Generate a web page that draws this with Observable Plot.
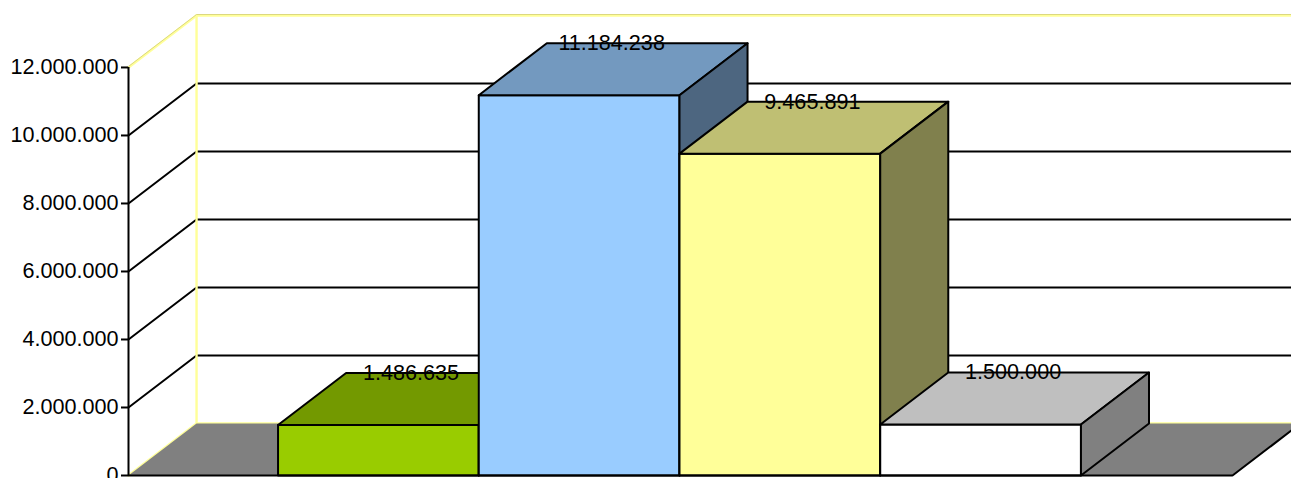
<!DOCTYPE html>
<html>
<head>
<meta charset="utf-8">
<style>html,body{margin:0;padding:0;background:#fff;overflow:hidden}svg{display:block}</style>
<script src="https://cdn.jsdelivr.net/npm/d3@7"></script>
<script src="https://cdn.jsdelivr.net/npm/@observablehq/plot@0.6"></script>
</head>
<body>
<script>
const values = [1486635, 11184238, 9465891, 1500000];
const valueLabels = ["1.486.635", "11.184.238", "9.465.891", "1.500.000"];
const frontColors = ["#99cc00", "#99ccff", "#ffff99", "#ffffff"];
const topColors = ["#739900", "#7399bf", "#bfbf73", "#bfbfbf"];
const sideColors = ["#4d6600", "#4d6680", "#80804d", "#808080"];
const tickValues = [0, 2000000, 4000000, 6000000, 8000000, 10000000, 12000000];
const tickLabels = ["0", "2.000.000", "4.000.000", "6.000.000", "8.000.000", "10.000.000", "12.000.000"];
const axisMax = 12000000, slots = 5.5, firstBar = 0.745, depthX = 0.339, depthY = 1528000;

const poly = (pts) => pts.map(([x, y]) => ({x, y}));
const fillLine = (pts, fill, extra = {}) =>
  Plot.line(poly([...pts, pts[0]]), {x: "x", y: "y", fill, stroke: "#000", strokeWidth: 2, strokeLinejoin: "round", curve: "linear", ...extra});
const edge = (pts, stroke, strokeWidth, extra = {}) =>
  Plot.line(poly(pts), {x: "x", y: "y", stroke, strokeWidth, curve: "linear", ...extra});

const sideWall = [[0, 0], [depthX, depthY], [depthX, axisMax + depthY], [0, axisMax]];
const backWall = [[depthX, depthY], [slots + depthX, depthY], [slots + depthX, axisMax + depthY], [depthX, axisMax + depthY]];
const floor = [[0, 0], [slots, 0], [slots + depthX, depthY], [depthX, depthY]];

const bars = values.flatMap((v, i) => {
  const a = firstBar + i, b = a + 1;
  return [
    fillLine([[a, 0], [b, 0], [b, v], [a, v]], frontColors[i]),
    fillLine([[a, v], [b, v], [b + depthX, v + depthY], [a + depthX, v + depthY]], topColors[i]),
    fillLine([[b, 0], [b + depthX, depthY], [b + depthX, v + depthY], [b, v]], sideColors[i])
  ];
});

const gridTicks = tickValues.filter((t) => t > 0 && t < axisMax);
const labelData = values.map((v, i) => ({x: firstBar + i + 0.5 + depthX / 2, y: v + depthY, text: valueLabels[i]}));

const chart = Plot.plot({
  width: 1291,
  height: 478,
  marginLeft: 128, marginRight: 59, marginTop: 15, marginBottom: 3,
  style: {background: "#fff", overflow: "hidden"},
  x: {domain: [0, slots], range: [128, 1232], axis: null},
  y: {domain: [0, axisMax + depthY], range: [475, 15], axis: null},
  marks: [
    fillLine(sideWall, "#fdf4de", {stroke: "none", ariaLabel: "wall"}),
    fillLine(backWall, "#fdf4de", {stroke: "none", ariaLabel: "wall"}),
    ...gridTicks.flatMap((t) => [
      edge([[0, t], [depthX, t + depthY], [slots + depthX, t + depthY]], "#000", 2)
    ]),
    edge([[0, 0], [depthX, depthY], [depthX, axisMax + depthY]], "#ffff99", 2.4),
    edge([[depthX, depthY], [slots + depthX, depthY]], "#ffff99", 2.4),
    edge([[0, axisMax], [depthX, axisMax + depthY], [slots + depthX, axisMax + depthY]], "#ffff99", 2.4),
    edge([[0, axisMax], [depthX, axisMax + depthY], [slots + depthX, axisMax + depthY]], "#dcd880", 1, {dy: -1}),
    fillLine(floor, "#808080", {stroke: "none"}),
    edge([[slots, 0], [slots + depthX, depthY]], "#000", 2),
    ...bars,
    Plot.ruleX([0], {y1: 0, y2: axisMax, stroke: "#000", strokeWidth: 2}),
    Plot.ruleY([0], {x1: 0, x2: slots, stroke: "#000", strokeWidth: 2}),
    Plot.axisY({
      ticks: tickValues,
      tickFormat: (t) => tickLabels[tickValues.indexOf(t)],
      anchor: "left",
      label: null,
      tickSize: 7,
      tickPadding: 3,
      strokeWidth: 2,
      stroke: "#000",
      fill: "#000",
      fontSize: 21.6,
      fontFamily: "Liberation Sans"
    }),
    Plot.text(labelData, {
      x: "x", y: "y", text: "text",
      textAnchor: "middle", lineAnchor: "middle",
      fill: "#000", fontSize: 21.6, fontFamily: "Liberation Sans", dx: -1.5
    })
  ]
});

const ns = "http://www.w3.org/2000/svg";
const defs = document.createElementNS(ns, "defs");
const filter = document.createElementNS(ns, "filter");
const setAttrs = (el, attrs) => { for (const k in attrs) el.setAttribute(k, attrs[k]); return el; };
setAttrs(filter, {id: "parchment", filterUnits: "userSpaceOnUse", x: 0, y: 0, width: 1291, height: 478, "color-interpolation-filters": "sRGB"});
filter.append(
  setAttrs(document.createElementNS(ns, "feTurbulence"), {type: "fractalNoise", baseFrequency: "0.014 0.02", numOctaves: 3, seed: 7, result: "n"}),
  setAttrs(document.createElementNS(ns, "feColorMatrix"), {in: "n", type: "matrix", values: "0 0 0 0 0.99  0.14 0 0 0 0.885  0.42 0 0 0 0.66  0 0 0 0 1", result: "c"}),
  setAttrs(document.createElementNS(ns, "feComposite"), {in: "c", in2: "SourceAlpha", operator: "in"})
);
defs.append(filter);
chart.prepend(defs);
chart.querySelectorAll('g[aria-label="wall"]').forEach((g) => g.setAttribute("filter", "url(#parchment)"));
document.body.appendChild(chart);
</script>
</body>
</html>
